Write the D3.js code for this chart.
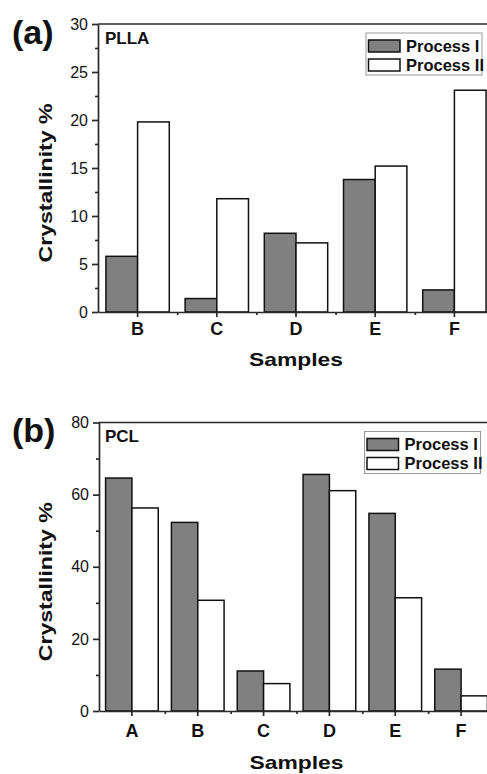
<!DOCTYPE html>
<html>
<head>
  <meta charset="UTF-8">
  <title>Crystallinity</title>
  <script src="https://d3js.org/d3.v7.min.js"></script>
  <style>
    body {
      margin: 0;
      background: white;
      font-family: Arial, "Liberation Sans", sans-serif;
    }
    .axis path, .axis line {
      stroke: #2a2a2a;
      stroke-width: 1.7;
    }
    .axis text {
      font-family: Arial, "Liberation Sans", sans-serif;
      fill: #111;
    }
    .bar {
      stroke: #111;
      stroke-width: 1.5;
    }
  </style>
</head>
<body>
  <svg id="chart" width="487" height="774"></svg>
  <script>
    const seriesNames = ["Process I", "Process II"];
    const seriesFill = ["#808080", "#ffffff"];

    // panel (a) PLLA
    const pllaSamples = ["B", "C", "D", "E", "F"];
    const pllaProcessI = [5.8, 1.4, 8.2, 13.8, 2.3];
    const pllaProcessII = [19.8, 11.8, 7.2, 15.2, 23.1];
    const pllaTicks = [0, 5, 10, 15, 20, 25, 30];

    // panel (b) PCL
    const pclSamples = ["A", "B", "C", "D", "E", "F"];
    const pclProcessI = [64.6, 52.3, 11.1, 65.6, 54.8, 11.6];
    const pclProcessII = [56.3, 30.7, 7.6, 61.1, 31.4, 4.2];
    const pclTicks = [0, 20, 40, 60, 80];

    const svg = d3.select("#chart");

    const drawPanel = (cfg) => {
      const g = svg.append("g");

      const x = d3.scaleBand()
        .domain(cfg.samples)
        .range([cfg.left, cfg.right]);
      const step = x.step();
      const xSub = d3.scaleBand()
        .domain(seriesNames)
        .range([0.1 * step, 0.9 * step]);

      const yMax = cfg.ticks[cfg.ticks.length - 1];
      const y = d3.scaleLinear()
        .domain([0, yMax])
        .range([cfg.bottom, cfg.top]);

      const rows = cfg.samples.map((s, i) => ({
        sample: s,
        values: [cfg.p1[i], cfg.p2[i]]
      }));

      // bars
      rows.forEach(r => {
        r.values.forEach((v, k) => {
          g.append("rect")
            .attr("class", "bar")
            .attr("x", x(r.sample) + xSub(seriesNames[k]))
            .attr("y", y(v))
            .attr("width", xSub.bandwidth())
            .attr("height", y(0) - y(v))
            .attr("fill", seriesFill[k]);
        });
      });

      // top frame line
      g.append("line")
        .attr("x1", cfg.left).attr("x2", cfg.right)
        .attr("y1", cfg.top).attr("y2", cfg.top)
        .attr("stroke", "#2a2a2a")
        .attr("stroke-width", 1.7);

      // y minor ticks
      const minor = d3.range(0, cfg.ticks.length - 1)
        .map(i => (cfg.ticks[i] + cfg.ticks[i + 1]) / 2);
      g.append("g")
        .attr("class", "axis")
        .attr("transform", `translate(${cfg.left},0)`)
        .call(d3.axisLeft(y).tickValues(minor).tickSize(3).tickFormat(""))
        .select(".domain").remove();

      // y axis
      const yAxis = g.append("g")
        .attr("class", "axis")
        .attr("transform", `translate(${cfg.left},0)`)
        .call(d3.axisLeft(y).tickValues(cfg.ticks).tickSize(6).tickSizeOuter(0).tickPadding(4));
      yAxis.selectAll("text")
        .style("font-size", "16px");

      // x minor ticks at band edges
      const edge = d3.scaleLinear().domain([0, cfg.samples.length]).range([cfg.left, cfg.right]);
      g.append("g")
        .attr("class", "axis")
        .attr("transform", `translate(0,${cfg.bottom})`)
        .call(d3.axisBottom(edge).tickValues(d3.range(1, cfg.samples.length)).tickSize(3).tickFormat(""))
        .select(".domain").remove();

      // x axis
      const xAxis = g.append("g")
        .attr("class", "axis")
        .attr("transform", `translate(0,${cfg.bottom})`)
        .call(d3.axisBottom(x).tickSize(5).tickSizeOuter(0));
      xAxis.selectAll("text")
        .attr("y", cfg.xLabelY)
        .attr("dy", 0)
        .style("font-size", "18px")
        .style("font-weight", "bold");

      // axis titles
      g.append("text")
        .attr("x", (cfg.left + cfg.right) / 2)
        .attr("y", cfg.bottom + cfg.xTitleY)
        .attr("text-anchor", "middle")
        .attr("textLength", 94)
        .attr("lengthAdjust", "spacingAndGlyphs")
        .style("font-size", "19px")
        .style("font-weight", "bold")
        .attr("fill", "#111")
        .text("Samples");

      const cy = (cfg.top + cfg.bottom) / 2 + 15;
      g.append("text")
        .attr("transform", `translate(51.5,${cy}) rotate(-90)`)
        .attr("text-anchor", "middle")
        .attr("textLength", 159)
        .attr("lengthAdjust", "spacingAndGlyphs")
        .style("font-size", "18.5px")
        .style("font-weight", "bold")
        .attr("fill", "#111")
        .text("Crystallinity %");

      // panel letter + material name
      g.append("text")
        .attr("x", 12)
        .attr("y", cfg.top + 19.5)
        .style("font-size", "34px")
        .style("font-weight", "bold")
        .attr("fill", "#111")
        .text(cfg.letter);

      g.append("text")
        .attr("x", 105)
        .attr("y", cfg.top + 19.5)
        .style("font-size", "17px")
        .style("font-weight", "bold")
        .attr("fill", "#111")
        .text(cfg.name);

      // legend
      const lg = g.append("g")
        .attr("transform", `translate(${cfg.legendX},${cfg.top + 9})`);
      lg.append("rect")
        .attr("width", 116)
        .attr("height", 42)
        .attr("fill", "white")
        .attr("stroke", "#999")
        .attr("stroke-width", 1);
      seriesNames.forEach((name, k) => {
        lg.append("rect")
          .attr("x", 2.5)
          .attr("y", 7 + k * 19)
          .attr("width", 31.5)
          .attr("height", 12)
          .attr("fill", seriesFill[k])
          .attr("stroke", "#111")
          .attr("stroke-width", 1.5);
        lg.append("text")
          .attr("x", 40)
          .attr("y", 18.5 + k * 19)
          .style("font-size", "16.5px")
          .style("font-weight", "bold")
          .attr("fill", "#111")
          .text(name);
      });
    };

    drawPanel({
      letter: "(a)", name: "PLLA",
      samples: pllaSamples, p1: pllaProcessI, p2: pllaProcessII, ticks: pllaTicks,
      left: 98, right: 494, top: 24, bottom: 312,
      xLabelY: 23, xTitleY: 54, legendX: 366
    });

    drawPanel({
      letter: "(b)", name: "PCL",
      samples: pclSamples, p1: pclProcessI, p2: pclProcessII, ticks: pclTicks,
      left: 99, right: 494, top: 422.5, bottom: 711,
      xLabelY: 26, xTitleY: 58, legendX: 364.5
    });
  </script>
</body>
</html>
